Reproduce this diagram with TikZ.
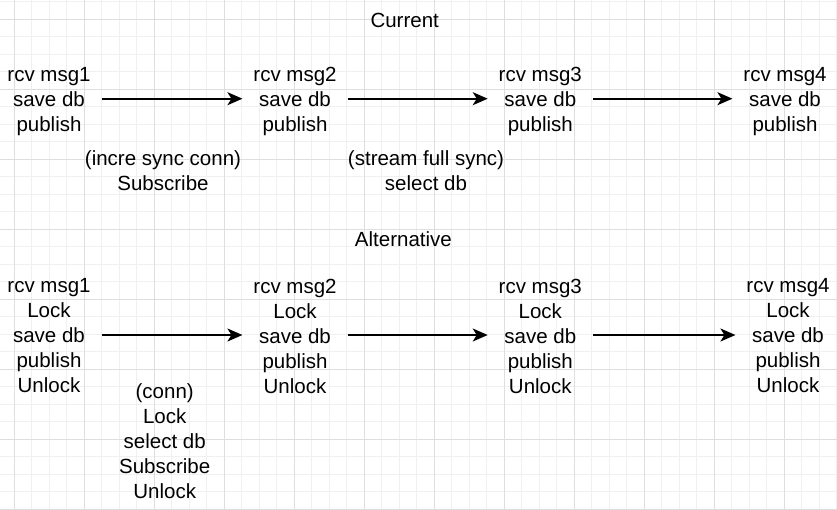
\documentclass[tikz,border=0pt]{standalone}
\usepackage{fontspec}
\setmainfont{Liberation Sans}
\usetikzlibrary{arrows.meta}
\definecolor{gridminor}{HTML}{F0F0F0}
\definecolor{gridmajor}{HTML}{DEDEDE}
\begin{document}
\begin{tikzpicture}[x=1pt,y=-1pt,
  txt/.style={inner sep=0pt, outer xsep=11pt, align=center, text=black,
    font=\fontsize{20.5}{25}\selectfont},
  flow/.style={line width=1.8pt, -{Stealth[length=15pt,width=13pt,inset=4pt]}}]
\useasboundingbox (0,0) rectangle (837,509);
\fill[white] (0,0) rectangle (837,509);
% grid
\foreach \i in {0,...,48} {
  \pgfmathsetmacro{\xx}{-3.2+17.5*\i}
  \draw[gridminor, line width=0.8pt] (\xx,0) -- (\xx,509);
}
\foreach \i in {0,...,29} {
  \pgfmathsetmacro{\yy}{1.8+17.5*\i}
  \draw[gridminor, line width=0.8pt] (0,\yy) -- (837,\yy);
}
\foreach \i in {0,...,11} {
  \pgfmathsetmacro{\xx}{14.3+70*\i}
  \draw[gridmajor, line width=0.8pt] (\xx,0) -- (\xx,509);
}
\foreach \i in {0,...,7} {
  \pgfmathsetmacro{\yy}{19.3+70*\i}
  \draw[gridmajor, line width=0.8pt] (0,\yy) -- (837,\yy);
}
% Current
\node[txt] (cur) at (404.7,20) {Current};
\node[txt] (c1) at (49,101.8) {rcv msg1\\save db\\publish};
\node[txt] (c2) at (295,101.8) {rcv msg2\\save db\\publish};
\node[txt] (c3) at (540.3,101.8) {rcv msg3\\save db\\publish};
\node[txt] (c4) at (785,101.8) {rcv msg4\\save db\\publish};
\draw[flow] (c1.east |- 0,98.7) -- (c2.west |- 0,98.7);
\draw[flow] (c2.east |- 0,98.7) -- (c3.west |- 0,98.7);
\draw[flow] (c3.east |- 0,98.7) -- (c4.west |- 0,98.7);
\node[txt] (l1) at (163,170.5) {(incre sync conn)\\Subscribe};
\node[txt] (l2) at (426,170.5) {(stream full sync)\\select db};
% Alternative
\node[txt] (alt) at (403.4,239.5) {Alternative};
\node[txt] (d1) at (49,336) {rcv msg1\\Lock\\save db\\publish\\Unlock};
\node[txt] (d2) at (295,336) {rcv msg2\\Lock\\save db\\publish\\Unlock};
\node[txt] (d3) at (540.3,336) {rcv msg3\\Lock\\save db\\publish\\Unlock};
\node[txt] (d4) at (788,336) {rcv msg4\\Lock\\save db\\publish\\Unlock};
\draw[flow] (d1.east |- 0,335) -- (d2.west |- 0,335);
\draw[flow] (d2.east |- 0,335) -- (d3.west |- 0,335);
\draw[flow] (d3.east |- 0,335) -- (d4.west |- 0,335);
\node[txt] (l3) at (164.7,441) {(conn)\\Lock\\select db\\Subscribe\\Unlock};
\end{tikzpicture}
\end{document}
